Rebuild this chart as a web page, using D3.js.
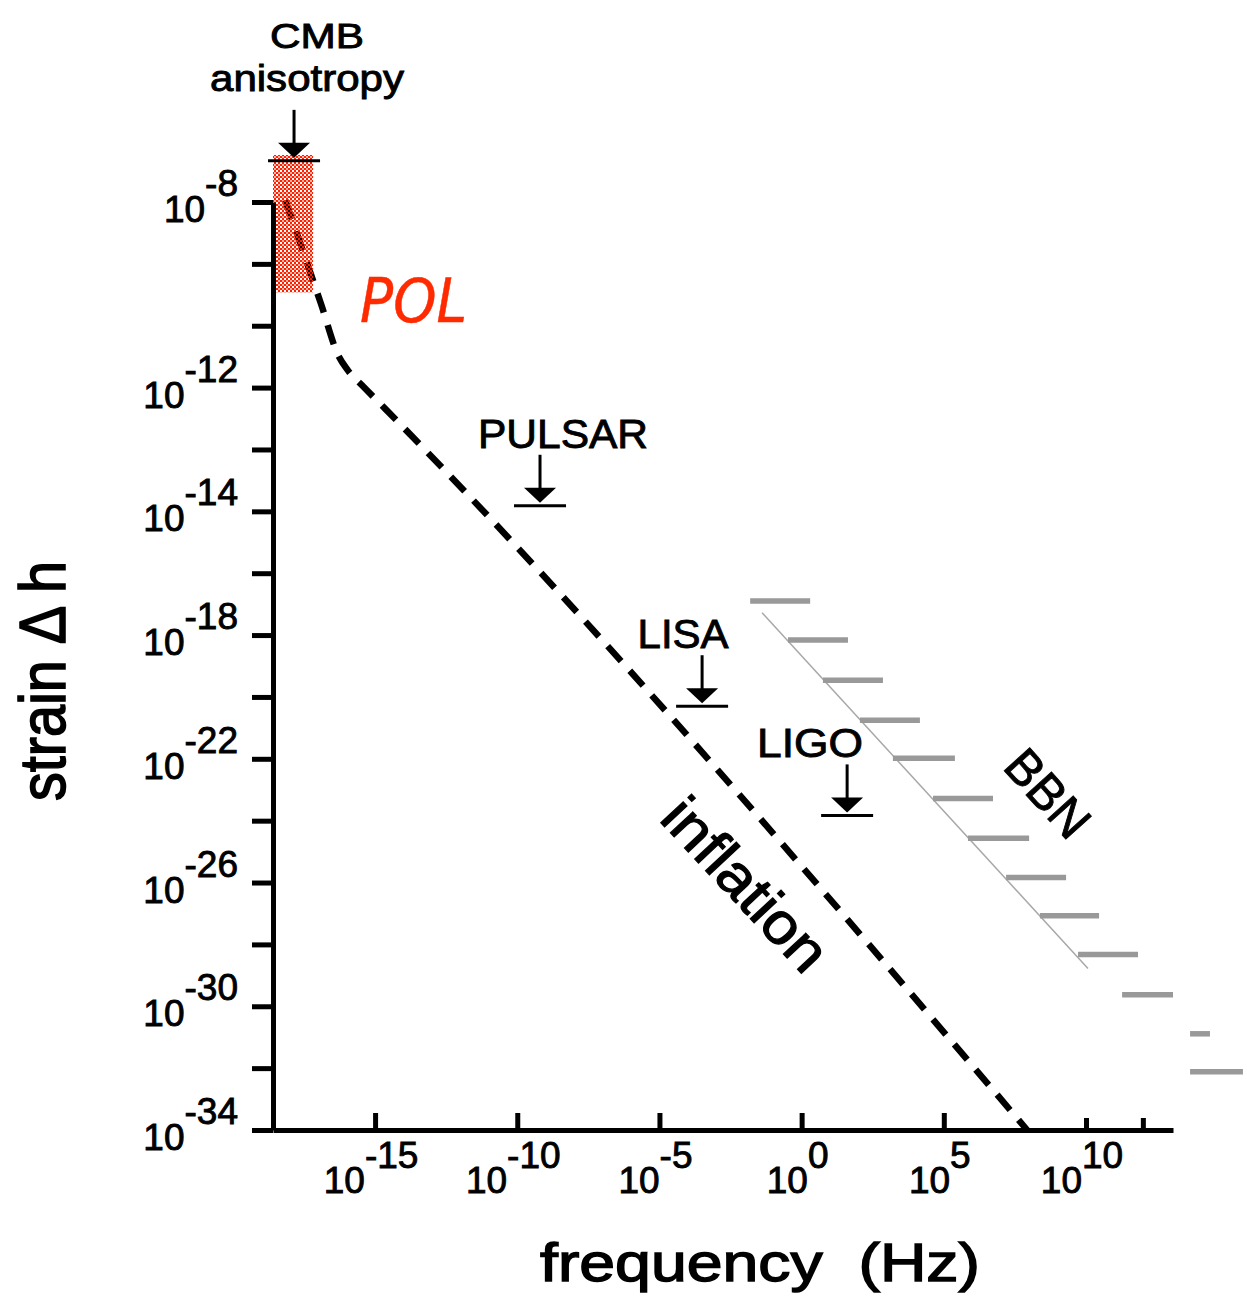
<!DOCTYPE html>
<html>
<head>
<meta charset="utf-8">
<script src="https://cdn.jsdelivr.net/npm/d3@7"></script>
<style>
  body { margin: 0; background: #fff; }
  text { font-family: "Liberation Sans", Arial, sans-serif; fill: #000; stroke: #000; stroke-width: 0.9px; }
</style>
</head>
<body>
<div id="chart"></div>
<script>
// all values are log10 exponents

// inflation spectrum (dashed)
const inflationF = [-18.16, -16.90, -16.30, -15.95, -15.40, -14.65, 7.93];
const inflationH = [-3.94, -7.30, -8.95, -9.45, -9.98, -10.68, -34];

// BBN bound: thin line plus hatch strokes
const bbnLineF = [-1.39, 10.07];
const bbnLineH = [-17.28, -28.78];
const bbnHatchH  = [-16.90, -18.16, -19.46, -20.75, -21.98, -23.28, -24.57, -25.84, -27.07, -28.33, -29.63, -30.89, -32.12];
const bbnHatchF0 = [-1.81, -0.48, 0.75, 2.05, 3.21, 4.62, 5.85, 7.19, 8.38, 9.72, 11.27, 13.66, 13.66];
const bbnHatchF1 = [0.30, 1.63, 2.86, 4.16, 5.39, 6.73, 8.00, 9.30, 10.46, 11.83, 13.06, 14.36, 15.52];

// experiment limits (arrow + bar)
const limitNames = ["PULSAR", "LISA", "LIGO"];
const limitF = [-9.20, -3.50, 1.60];
const limitH = [-13.82, -20.30, -23.83];

// CMB anisotropy limit and POL box
const cmbF = -17.85, cmbH = -2.67;
const polBoxF = [-18.59, -17.18];
const polBoxH = [-6.92, -2.48];

// axes
const xDomain = [-18.59, 13.06];
const yDomain = [-34, -4];
const xMajorTicks = [-15, -10, -5, 0, 5];
const xMinorTicks = [10, 12];
const xLabelTicks = [-15, -10, -5, 0, 5, 10];
const yTicks = d3.range(-34, -3, 2);
const yLabelPos  = [-34, -30, -26, -22, -18, -14, -10, -4];
const yLabelText = ["-34", "-30", "-26", "-22", "-18", "-14", "-12", "-8"];

const W = 1247, H = 1298;
const p10 = e => Math.pow(10, e);

const svg = d3.select("#chart").append("svg")
  .attr("width", W).attr("height", H)
  .style("background", "#fff");

const x = d3.scaleLog().domain(xDomain.map(p10)).range([273, 1173]);
const y = d3.scaleLog().domain(yDomain.map(p10)).range([1130, 202]);
const X = e => x(p10(e));
const Y = e => y(p10(e));

// checkered pattern for the POL box
const defs = svg.append("defs");
const pat = defs.append("pattern").attr("id", "chk")
  .attr("width", 4).attr("height", 4).attr("patternUnits", "userSpaceOnUse");
pat.append("rect").attr("x", 0).attr("y", 0).attr("width", 2).attr("height", 2).attr("fill", "#ff2000");
pat.append("rect").attr("x", 2).attr("y", 2).attr("width", 2).attr("height", 2).attr("fill", "#ff2000");
pat.append("rect").attr("x", 2).attr("y", 0).attr("width", 2).attr("height", 2).attr("fill", "#ff2000").attr("opacity", 0.35);

// BBN
svg.append("line")
  .attr("x1", X(bbnLineF[0])).attr("y1", Y(bbnLineH[0]))
  .attr("x2", X(bbnLineF[1])).attr("y2", Y(bbnLineH[1]))
  .attr("stroke", "#a8a8a8").attr("stroke-width", 1.5);

svg.append("g").selectAll("line")
  .data(bbnHatchH)
  .join("line")
  .attr("x1", (d, i) => X(bbnHatchF0[i]))
  .attr("x2", (d, i) => X(bbnHatchF1[i]))
  .attr("y1", d => Y(d)).attr("y2", d => Y(d))
  .attr("stroke", "#999").attr("stroke-width", 5.5);

// inflation dashed curve
const line = d3.line()
  .x(d => X(d[0]))
  .y(d => Y(d[1]))
  .curve(d3.curveMonotoneX);

svg.append("path")
  .datum(inflationF.map((f, i) => [f, inflationH[i]]))
  .attr("fill", "none")
  .attr("stroke", "#000")
  .attr("stroke-width", 6.5)
  .attr("stroke-dasharray", "20,13")
  .attr("d", line);

// POL box drawn over the curve
svg.append("rect")
  .attr("x", X(polBoxF[0])).attr("y", Y(polBoxH[1]))
  .attr("width", X(polBoxF[1]) - X(polBoxF[0]))
  .attr("height", Y(polBoxH[0]) - Y(polBoxH[1]))
  .attr("fill", "url(#chk)");

// axes
const yAxis = d3.axisLeft(y)
  .tickValues(yTicks.map(p10))
  .tickSize(21).tickSizeOuter(0).tickFormat("");
const gy = svg.append("g").attr("transform", "translate(273,0)").call(yAxis);

const xAxisMajor = d3.axisBottom(x)
  .tickValues(xMajorTicks.map(p10))
  .tickSize(-17).tickSizeOuter(0).tickFormat("");
const xAxisMinor = d3.axisBottom(x)
  .tickValues(xMinorTicks.map(p10))
  .tickSize(-12).tickSizeOuter(0).tickFormat("");
const gx = svg.append("g").attr("transform", "translate(0,1130)").call(xAxisMajor);
const gx2 = svg.append("g").attr("transform", "translate(0,1130)").call(xAxisMinor);
gx2.select(".domain").remove();

[gy, gx, gx2].forEach(g => {
  g.select(".domain").attr("stroke", "#000").attr("stroke-width", 5);
  g.selectAll(".tick line").attr("stroke", "#000").attr("stroke-width", 5);
});

// y tick labels
yLabelPos.forEach((e, i) => {
  const t = svg.append("text")
    .attr("x", 238).attr("y", Y(e) + 20)
    .attr("text-anchor", "end")
    .style("font-size", "37px");
  t.append("tspan").text("10");
  t.append("tspan").attr("dy", -26).text(yLabelText[i]);
});

// x tick labels
xLabelTicks.forEach(e => {
  const t = svg.append("text")
    .attr("x", X(e) - 4).attr("y", 1193)
    .attr("text-anchor", "middle")
    .style("font-size", "37px");
  t.append("tspan").text("10");
  t.append("tspan").attr("dy", -25).text(e);
});

// arrow + bar marker
function marker(f, h) {
  const cx = X(f), by = Y(h);
  svg.append("line")
    .attr("x1", cx - 26).attr("x2", cx + 26)
    .attr("y1", by).attr("y2", by)
    .attr("stroke", "#000").attr("stroke-width", 3);
  svg.append("line")
    .attr("x1", cx).attr("x2", cx)
    .attr("y1", by - 51).attr("y2", by - 17)
    .attr("stroke", "#000").attr("stroke-width", 3);
  svg.append("path")
    .attr("d", `M${cx - 16},${by - 18}L${cx + 16},${by - 18}L${cx},${by - 3}Z`)
    .attr("fill", "#000");
}

const labelDx = [23, -19, -37];
const labelLen = [170, 91, 106];
limitNames.forEach((name, i) => {
  marker(limitF[i], limitH[i]);
  svg.append("text")
    .attr("x", X(limitF[i]) + labelDx[i] - labelLen[i] / 2)
    .attr("y", Y(limitH[i]) - 58)
    .attr("textLength", labelLen[i])
    .attr("lengthAdjust", "spacingAndGlyphs")
    .style("font-size", "40px")
    .text(name);
});

// CMB
marker(cmbF, cmbH);
svg.append("text").attr("x", 270).attr("y", 48)
  .attr("textLength", 94).attr("lengthAdjust", "spacingAndGlyphs")
  .style("font-size", "35px").text("CMB");
svg.append("text").attr("x", 210).attr("y", 91)
  .attr("textLength", 194).attr("lengthAdjust", "spacingAndGlyphs")
  .style("font-size", "36px").text("anisotropy");

// POL
svg.append("text").attr("x", 360).attr("y", 322)
  .attr("textLength", 107).attr("lengthAdjust", "spacingAndGlyphs")
  .style("font-family", "'DejaVu Sans', sans-serif")
  .style("font-style", "italic")
  .style("font-size", "60px")
  .style("fill", "#ff2a00")
  .style("stroke", "#ff2a00")
  .style("stroke-width", "0.5px")
  .text("POL");

// rotated curve labels
svg.append("text")
  .attr("transform", "translate(731,898) rotate(47)")
  .attr("text-anchor", "middle")
  .attr("textLength", 214).attr("lengthAdjust", "spacingAndGlyphs")
  .style("font-size", "58px")
  .style("stroke-width", "1.2px")
  .text("inflation");

svg.append("text")
  .attr("transform", "translate(1035,805) rotate(48)")
  .attr("text-anchor", "middle")
  .attr("textLength", 100).attr("lengthAdjust", "spacingAndGlyphs")
  .style("font-size", "50px")
  .text("BBN");

// axis titles
svg.append("text")
  .attr("x", 540).attr("y", 1281)
  .attr("textLength", 440).attr("lengthAdjust", "spacingAndGlyphs")
  .style("font-size", "54px")
  .style("stroke-width", "1.4px")
  .text("frequency\u00a0\u00a0(Hz)");

svg.append("text")
  .attr("transform", "translate(65,681) rotate(-90)")
  .attr("text-anchor", "middle")
  .attr("textLength", 240).attr("lengthAdjust", "spacingAndGlyphs")
  .style("font-size", "64px")
  .style("stroke-width", "1.6px")
  .text("strain \u0394 h");
</script>
</body>
</html>
